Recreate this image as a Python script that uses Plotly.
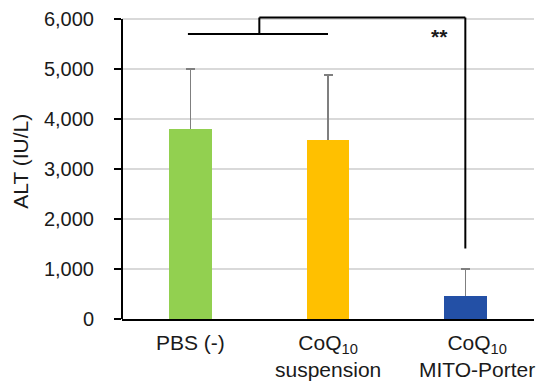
import plotly.graph_objects as go

# Serum ALT by treatment group (mean + SD)
categories = ["PBS (-)", "CoQ<sub>10</sub><br>suspension", "CoQ<sub>10</sub><br>MITO-Porter"]
alt_mean = [3800, 3580, 460]
alt_sd = [1200, 1300, 540]
bar_colors = ["#92d050", "#ffc000", "#2350a6"]
y_ticks = [0, 1000, 2000, 3000, 4000, 5000, 6000]

FONT = "Liberation Sans, Arial, sans-serif"
TEXT = "#1a1a1a"

fig = go.Figure()
# Bars carrying symmetric SD whiskers; the lower half is hidden by the copy drawn on top
fig.add_trace(go.Bar(
    x=categories,
    y=alt_mean,
    width=0.31,
    marker=dict(color=bar_colors, line=dict(width=0)),
    error_y=dict(type="data", array=alt_sd, color="#7f7f7f", thickness=1.5, width=4.5),
    showlegend=False,
    hoverinfo="skip",
))
fig.add_trace(go.Bar(
    x=categories,
    y=alt_mean,
    width=0.31,
    marker=dict(color=bar_colors, line=dict(width=0)),
    showlegend=False,
))

# Category labels below the axis
label_shift = [0, 0, 12]
for cat, dx in zip(categories, label_shift):
    fig.add_annotation(x=cat, y=0, xref="x", yref="y", text=cat, showarrow=False,
                       yanchor="top", yshift=-10, xshift=dx, align="center",
                       font=dict(family=FONT, size=21, color=TEXT))

# Significance bracket: PBS / suspension pair vs MITO-Porter
bracket = dict(color="black", width=2)
fig.add_shape(type="line", x0=-0.02, x1=1, y0=5700, y1=5700, xref="x", yref="y", line=bracket)
fig.add_shape(type="line", x0=0.5, x1=0.5, y0=5700, y1=6030, xref="x", yref="y", line=bracket)
fig.add_shape(type="line", x0=0.5, x1=2, y0=6030, y1=6030, xref="x", yref="y", line=bracket)
fig.add_shape(type="line", x0=2, x1=2, y0=6030, y1=1410, xref="x", yref="y", line=bracket)
fig.add_annotation(x=1.81, y=5660, xref="x", yref="y", text="<b>**</b>", showarrow=False,
                   font=dict(family=FONT, size=21, color=TEXT))

# Y axis line ending at the top tick
fig.add_shape(type="line", x0=0, x1=0, y0=0, y1=6000, xref="paper", yref="y",
              line=dict(color="black", width=2))

# Y axis title
fig.add_annotation(x=-101 / 412, y=0.519, xref="paper", yref="paper", text="ALT (IU/L)",
                   textangle=-90, showarrow=False, xanchor="center", yanchor="middle",
                   font=dict(family=FONT, size=21, color=TEXT))

fig.update_layout(
    width=536, height=381,
    margin=dict(l=122, r=2, t=16, b=62),
    plot_bgcolor="white", paper_bgcolor="white",
    font=dict(family=FONT, color=TEXT),
    barmode="overlay",
    bargap=0,
    xaxis=dict(range=[-0.5, 2.5], showticklabels=False, ticks="", showgrid=False,
               zeroline=False, showline=True, linecolor="black", linewidth=2),
    yaxis=dict(range=[0, 6060], tickvals=y_ticks, tickformat=",", ticks="outside",
               ticklen=7, tickwidth=2, tickcolor="black", showline=False,
               showgrid=True, gridcolor="#d9d9d9", gridwidth=1.5, zeroline=False,
               ticklabelstandoff=16, tickfont=dict(family=FONT, size=20, color=TEXT)),
)

fig.write_html("out.html")
